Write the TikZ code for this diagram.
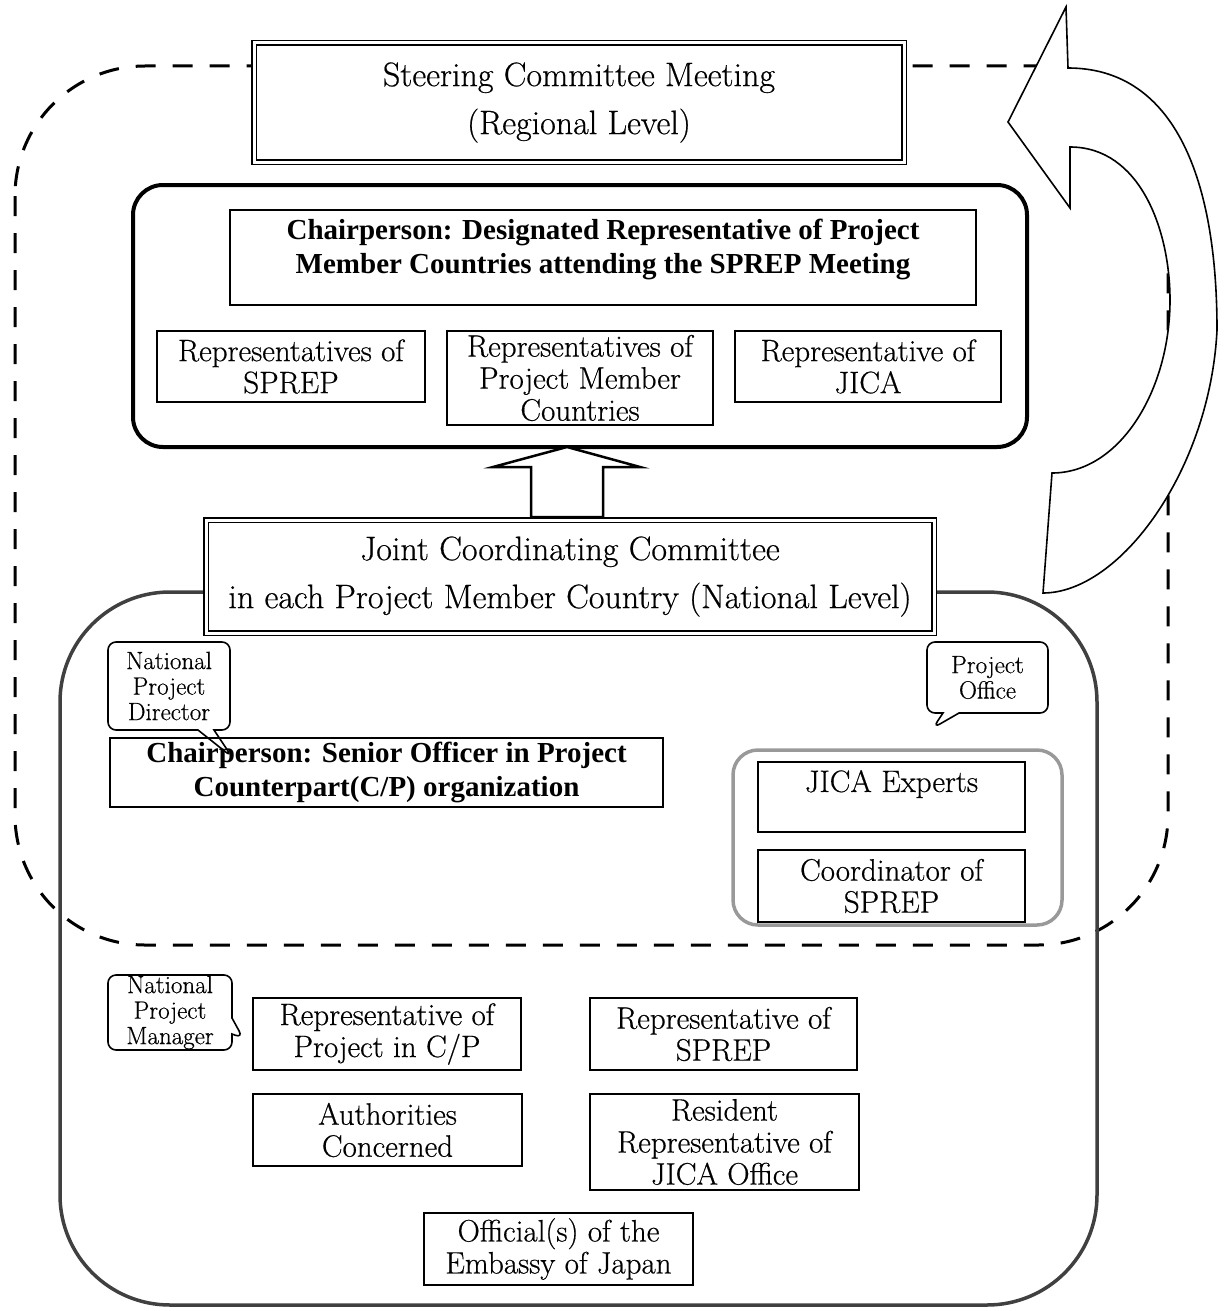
\documentclass[tikz,border=0pt]{standalone}
\usepackage{fontspec}
\usetikzlibrary{shapes.callouts}
\newfontfamily\timesbf{Liberation Serif}
\newfontfamily\centfont{Latin Modern Roman}[FakeBold=0.5]

\newcommand{\titlefont}{\centfont\fontsize{34}{48}\selectfont}
\newcommand{\boxfont}{\centfont\fontsize{31}{32}\selectfont}
\newcommand{\chairfont}{\timesbf\bfseries\fontsize{29}{34}\selectfont}
\newcommand{\notefont}{\centfont\fontsize{25}{25.5}\selectfont}

\tikzset{
  box/.style={draw, line width=1.6pt, fill=white, align=center, inner sep=0pt, font=\boxfont},
  dbox/.style={box, double, double distance=3pt, font=\titlefont},
  chairbox/.style={box, font=\chairfont},
  note/.style={rectangle callout, draw, line width=1.6pt, rounded corners=8pt, align=center,
    inner sep=0pt, font=\notefont, callout pointer width=16pt},
  dashline/.style={line width=3pt, dash pattern=on 20pt off 17pt},
  blockarrow/.style={draw, line width=1.6pt, fill=white, line join=miter},
}

\begin{document}
\begin{tikzpicture}[x=1pt,y=-1pt]
\useasboundingbox (0,0) rectangle (1227,1311);

% regional level frame (dashed)
\draw[dashline, rounded corners=130pt] (15,66) rectangle (1168,945);
% national level frame
\draw[line width=3.5pt, black!75, rounded corners=110pt] (60,592) rectangle (1097,1305);
% members of the steering committee
\node[draw, line width=4pt, rounded corners=30pt, minimum width=894pt, minimum height=262pt] (regional) at (580,316) {};

% curved arrow back up to the steering committee
\draw[blockarrow] (1068,68) -- (1066,7) -- (1008,122) -- (1070,208) -- (1070,147)
  .. controls (1140,147) and (1170,230) .. (1170,300)
  .. controls (1170,390) and (1120,473) .. (1052,473)
  -- (1043,593)
  .. controls (1120,593) and (1210,470) .. (1217,330)
  .. controls (1217,170) and (1170,68) .. (1068,68) -- cycle;

% arrow from national to regional level
\draw[blockarrow, line width=2.5pt] (531,517) -- (531,467) -- (493,467) -- (567,447)
  -- (640,467) -- (603,467) -- (603,517) -- cycle;

\node[dbox, minimum width=650pt, minimum height=119pt] (steering) at (579,102.5)
  {Steering Committee Meeting\\(Regional Level)};

\node[chairbox, minimum width=746pt, minimum height=95pt] (chair) at (603,257.5)
  {Chairperson: Designated Representative of Project\\Member Countries attending the SPREP Meeting\\[-12pt]\mbox{}};
\node[box, minimum width=268pt, minimum height=71pt] (repsprep) at (291,366.5)
  {Representatives of\\SPREP};
\node[box, minimum width=266pt, minimum height=94pt] (repcountry) at (580,378)
  {Representatives of\\Project Member\\Countries};
\node[box, minimum width=266pt, minimum height=71pt] (repjica) at (868,366.5)
  {Representative of\\JICA};

\node[dbox, minimum width=728pt, minimum height=113pt] (jcc) at (570,576.5)
  {Joint Coordinating Committee\\in each Project Member Country (National Level)};

\node[chairbox, minimum width=553pt, minimum height=69pt] (seniorofficer) at (386.5,772.5)
  {Chairperson: Senior Officer in Project\\Counterpart(C/P) organization};
\node[note, minimum width=122pt, minimum height=88pt, callout absolute pointer={(232,757)}] (director) at (169,686)
  {National\\Project\\Director};
\node[note, minimum width=121pt, minimum height=71pt, callout absolute pointer={(933,728)}] (office) at (987.5,677.5)
  {Project\\Office};

% project office group
\node[draw, line width=3.5pt, black!40, rounded corners=25pt, minimum width=329pt, minimum height=175pt] (officegroup) at (897.5,837.5) {};
\node[box, minimum width=267pt, minimum height=70pt] (experts) at (891.5,797)
  {JICA Experts\\\mbox{}};
\node[box, minimum width=267pt, minimum height=72pt] (coordinator) at (891.5,886)
  {Coordinator of\\SPREP};

\node[note, minimum width=124pt, minimum height=75pt, callout absolute pointer={(243,1038)}] (manager) at (170,1012.5)
  {National\\Project\\Manager};
\node[box, minimum width=268pt, minimum height=72pt] (repcp) at (387,1034)
  {Representative of\\Project in C/P};
\node[box, minimum width=267pt, minimum height=72pt] (repsprep2) at (723.5,1034)
  {Representative of\\SPREP};
\node[box, minimum width=269pt, minimum height=72pt] (authorities) at (387.5,1130)
  {Authorities\\Concerned};
\node[box, minimum width=269pt, minimum height=96pt] (resident) at (724.5,1142)
  {Resident\\Representative of\\JICA Office};
\node[box, minimum width=269pt, minimum height=72pt] (embassy) at (558.5,1249)
  {Official(s) of the\\Embassy of Japan};
\end{tikzpicture}
\end{document}
